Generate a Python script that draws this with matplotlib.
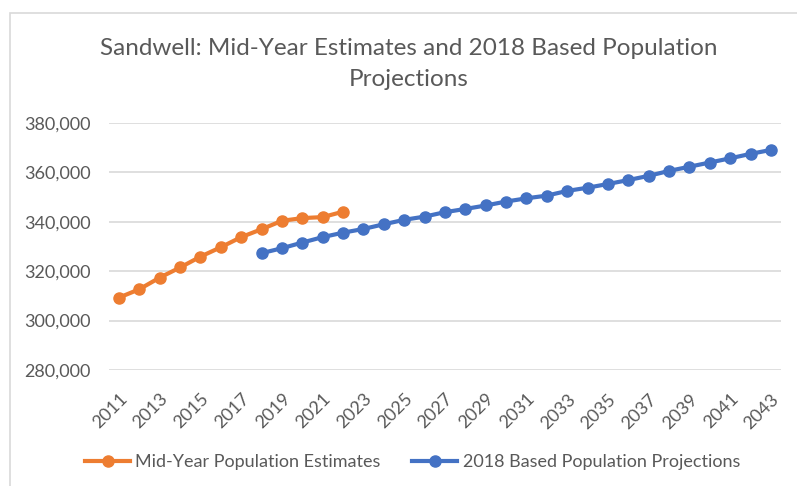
import matplotlib.pyplot as plt
from matplotlib.patches import Rectangle
from matplotlib.ticker import FuncFormatter
from matplotlib.transforms import ScaledTranslation

plt.rcParams['font.family'] = ['Lato', 'DejaVu Sans']

# mid-year estimates 2011-2022
est_years = list(range(2011, 2023))
est_values = [309300, 312700, 317400, 321500, 325900, 329700,
              333800, 337000, 340400, 341500, 341900, 344100]

# 2018 based projections 2018-2043
proj_years = list(range(2018, 2044))
proj_values = [327300, 329300, 331600, 333800, 335600, 337100, 339000,
               340800, 342100, 343900, 345200, 346600, 348200, 349500,
               350600, 352500, 353800, 355300, 356900, 358600, 360600,
               362300, 364000, 365700, 367500, 369100]

tick_years = list(range(2011, 2044, 2))
grey = "#595959"
orange = "#ED7D31"
blue = "#4472C4"

fig = plt.figure(figsize=(7.97, 4.86), dpi=100)
ax = fig.add_axes([0.1365, 0.2387, 0.8435, 0.5082])

# chart border (only top/left visible in the crop)
fig.patches.append(Rectangle((10 / 797, -0.1), 1.2, 1 - 13 / 486 + 0.1,
                             transform=fig.transFigure, fill=False,
                             edgecolor="#D9D9D9", linewidth=1.2))

ax.plot(est_years, est_values, color=orange, linewidth=3, marker="o",
        markersize=8, label="Mid-Year Population Estimates", zorder=3)
ax.plot(proj_years, proj_values, color=blue, linewidth=3, marker="o",
        markersize=8, label="2018 Based Population Projections", zorder=3)

ax.set_xlim(2010.5, 2043.5)
ax.set_ylim(280000, 380000)
ax.set_yticks(range(280000, 380001, 20000))
ax.yaxis.set_major_formatter(FuncFormatter(lambda v, p: f"{int(v):,}"))
ax.set_xticks(tick_years)
ax.set_xticklabels([str(y) for y in tick_years], rotation=45, ha="right",
                   rotation_mode="anchor")
shift = ScaledTranslation(4 / 100, 0, fig.dpi_scale_trans)
for lbl in ax.get_xticklabels():
    lbl.set_transform(lbl.get_transform() + shift)

ax.grid(axis="y", color="#D9D9D9", linewidth=1.2)
ax.set_axisbelow(True)
for s in ax.spines.values():
    s.set_visible(False)
ax.tick_params(axis="both", length=0, labelsize=13, labelcolor=grey)
ax.tick_params(axis="y", pad=13)
ax.tick_params(axis="x", pad=15)

fig.text(0.5126, 0.868, "Sandwell: Mid-Year Estimates and 2018 Based Population\nProjections",
         ha="center", va="center", fontsize=17.5, color=grey, linespacing=1.55)

fig.legend(loc="center", bbox_to_anchor=(0.5176, 0.049), ncol=2, frameon=False,
           fontsize=13, labelcolor=grey, handlelength=2.5, columnspacing=1.75,
           handletextpad=0.28)

fig.savefig("out.png", dpi=100)
